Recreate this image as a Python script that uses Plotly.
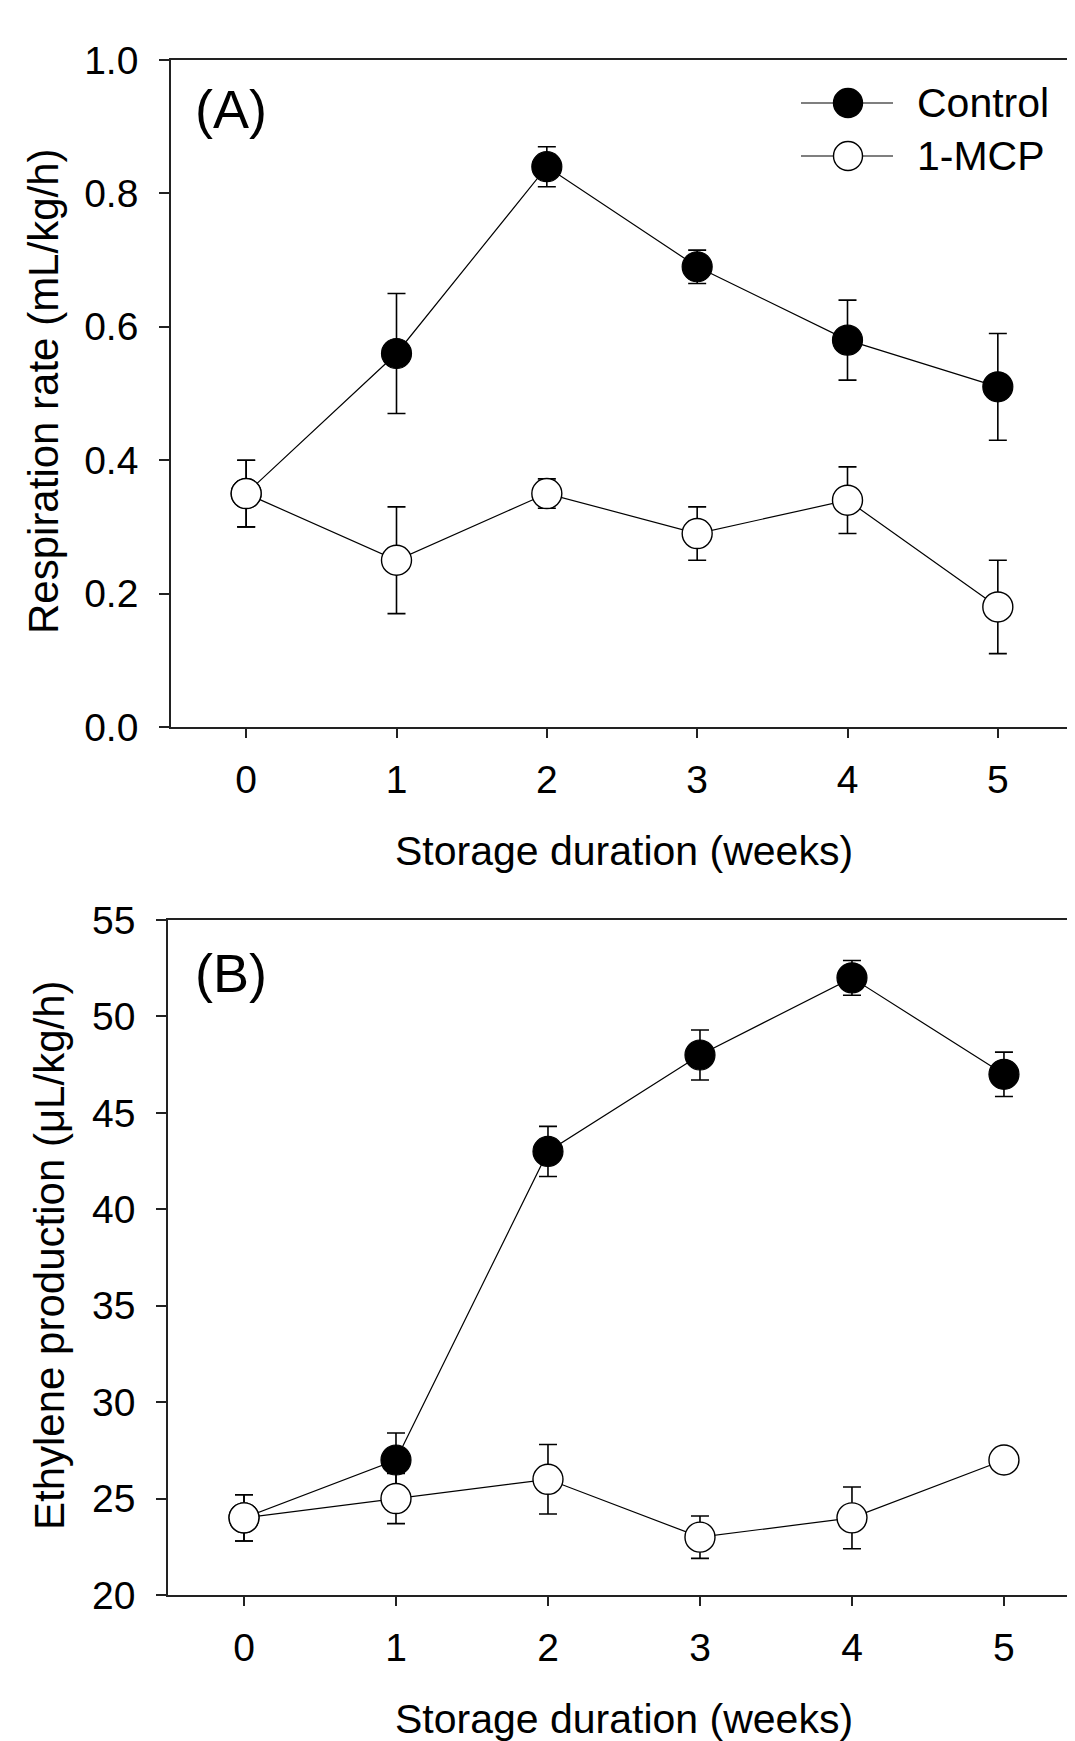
import plotly.graph_objects as go

# ---------------- data ----------------
weeks = [0, 1, 2, 3, 4, 5]
week_ticks = ["0", "1", "2", "3", "4", "5"]

resp_control = [0.35, 0.56, 0.84, 0.69, 0.58, 0.51]
resp_control_err = [0.05, 0.09, 0.03, 0.025, 0.06, 0.08]
resp_mcp = [0.35, 0.25, 0.35, 0.29, 0.34, 0.18]
resp_mcp_err = [0.05, 0.08, 0.022, 0.04, 0.05, 0.07]

eth_control = [24.0, 27.0, 43.0, 48.0, 52.0, 47.0]
eth_control_err = [1.2, 1.4, 1.3, 1.3, 0.9, 1.15]
eth_mcp = [24.0, 25.0, 26.0, 23.0, 24.0, 27.0]
eth_mcp_err = [1.2, 1.3, 1.8, 1.1, 1.6, 0.5]

series_names = ["Control", "1-MCP"]

# ---------------- layout helpers ----------------
W, H = 1075, 1741
OFF = 8  # page body margin
FONT = "Liberation Sans, Arial, sans-serif"
AX = "#222222"


def fx(x):
    return (x - OFF) / W


def fy(y):
    return 1 - (y - OFF) / H


fig = go.Figure()


def add_pair(ctrl, ctrl_err, mcp, mcp_err, xa, ya):
    fig.add_trace(go.Scatter(
        x=weeks, y=ctrl, mode="lines+markers", name=series_names[0],
        xaxis=xa, yaxis=ya, showlegend=False,
        line=dict(color="black", width=1.2),
        marker=dict(size=30, color="black", line=dict(color="black", width=1.2)),
        error_y=dict(type="data", array=ctrl_err, visible=True, color="black",
                     thickness=1.6, width=9),
    ))
    fig.add_trace(go.Scatter(
        x=weeks, y=mcp, mode="lines+markers", name=series_names[1],
        xaxis=xa, yaxis=ya, showlegend=False,
        line=dict(color="black", width=1.2),
        marker=dict(size=30, color="white", line=dict(color="black", width=1.4)),
        error_y=dict(type="data", array=mcp_err, visible=True, color="black",
                     thickness=1.6, width=9),
    ))


add_pair(resp_control, resp_control_err, resp_mcp, resp_mcp_err, "x", "y")
add_pair(eth_control, eth_control_err, eth_mcp, eth_mcp_err, "x2", "y2")

tickfont = dict(family=FONT, size=39, color="black")
common_x = dict(
    tickmode="array", tickvals=weeks, ticktext=week_ticks,
    showline=True, linecolor=AX, linewidth=1.6, mirror=True,
    ticks="outside", ticklen=9, tickwidth=1.6, tickcolor=AX, automargin=False,
    showgrid=False, zeroline=False, tickfont=tickfont, ticklabelstandoff=8,
)
common_y = dict(
    showline=True, linecolor=AX, linewidth=1.6, automargin=False,
    ticks="outside", ticklen=10, tickwidth=1.6, tickcolor=AX,
    showgrid=False, zeroline=False, tickfont=tickfont, ticklabelstandoff=13,
)

fig.update_layout(
    width=W, height=H,
    margin=dict(l=0, r=0, t=0, b=0, pad=0),
    paper_bgcolor="white", plot_bgcolor="white",
    showlegend=False,
    xaxis=dict(common_x, domain=[fx(171), fx(1073)], range=[-0.5, 5.5], anchor="y"),
    yaxis=dict(common_y, domain=[fy(727), fy(60)], range=[0, 1.0], dtick=0.2,
               tick0=0, tickformat=".1f", mirror=True, anchor="x"),
    xaxis2=dict(common_x, domain=[fx(168), 1.0], range=[-0.5, 5.52], anchor="y2"),
    yaxis2=dict(common_y, domain=[fy(1595), fy(920)], range=[20, 55], dtick=5,
                tick0=20, anchor="x2"),
)

xt_font = dict(family=FONT, size=41, color="black")
yt_font = dict(family=FONT, size=42, color="black")
lab_font = dict(family=FONT, size=54, color="black")
leg_font = dict(family=FONT, size=41, color="black")
annotations = [
    dict(text="Storage duration (weeks)", x=fx(624), y=fy(851), xref="paper", yref="paper",
         showarrow=False, font=xt_font, xanchor="center", yanchor="middle"),
    dict(text="Storage duration (weeks)", x=fx(624), y=fy(1719), xref="paper", yref="paper",
         showarrow=False, font=xt_font, xanchor="center", yanchor="middle"),
    dict(text="Respiration rate (mL/kg/h)", x=fx(44), y=fy(391), xref="paper", yref="paper",
         showarrow=False, font=yt_font, textangle=-90, xanchor="center", yanchor="middle"),
    dict(text="Ethylene production (\u03bcL/kg/h)", x=fx(49), y=fy(1255), xref="paper",
         yref="paper", showarrow=False, font=yt_font, textangle=-90,
         xanchor="center", yanchor="middle"),
    dict(text="(A)", x=fx(193), y=fy(109), xref="paper", yref="paper", showarrow=False,
         font=lab_font, xanchor="left", yanchor="middle"),
    dict(text="(B)", x=fx(193), y=fy(973), xref="paper", yref="paper", showarrow=False,
         font=lab_font, xanchor="left", yanchor="middle"),
]

# legend (drawn manually to match the long legend lines)
shapes = []
legend_rows = [(103, "black"), (156, "white")]
for (ly, fill), name in zip(legend_rows, series_names):
    shapes.append(dict(type="line", xref="paper", yref="paper",
                       x0=fx(801), x1=fx(893), y0=fy(ly), y1=fy(ly),
                       line=dict(color="black", width=1.2)))
    r = 14.5
    shapes.append(dict(type="circle", xref="paper", yref="paper",
                       x0=fx(848 - r), x1=fx(848 + r), y0=fy(ly + r), y1=fy(ly - r),
                       fillcolor=fill, line=dict(color="black", width=1.4)))
    annotations.append(dict(text=name, x=fx(915), y=fy(ly), xref="paper", yref="paper",
                            showarrow=False, font=leg_font, xanchor="left",
                            yanchor="middle"))

fig.update_layout(annotations=annotations, shapes=shapes)

fig.write_html("out.html")
